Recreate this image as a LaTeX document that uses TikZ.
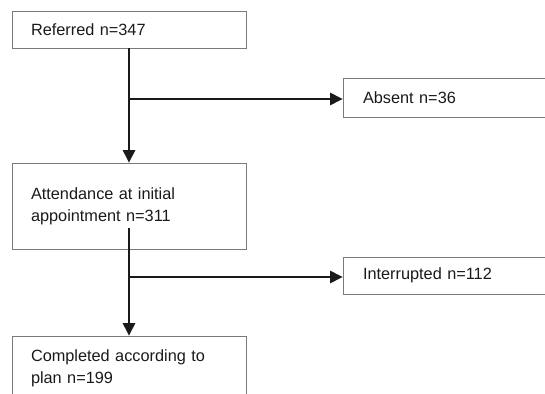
\documentclass[tikz,border=0pt]{standalone}
\usepackage{fontspec}
\setmainfont{Liberation Sans}
\usetikzlibrary{arrows.meta,calc}
\definecolor{boxgray}{HTML}{7A7A7A}
\definecolor{ink}{HTML}{1A1A1A}
\begin{document}
\begin{tikzpicture}[x=1pt,y=1pt,
  flowbox/.style={draw=boxgray, line width=0.9pt, rectangle, minimum width=234pt,
    text width=196pt, inner xsep=19pt, inner ysep=0pt, align=left, text=ink,
    font=\fontsize{16.3}{22}\selectfont},
  sidebox/.style={flowbox, minimum width=222pt, text width=182pt, inner xsep=20pt},
  conn/.style={draw=ink, line width=1.4pt, -{Triangle[length=12.5pt,width=12.5pt]}},
  plain/.style={draw=ink, line width=1.4pt}]
\useasboundingbox (0,0) rectangle (545,-393);
\clip (0,0) rectangle (545,-393);
\node[flowbox, minimum height=37pt] (ref) at (129,-29.5) {Referred n=347};
\node[sidebox, minimum height=39pt] (absent) at (454,-97.5) {Absent n=36};
\node[flowbox, minimum height=86pt] (att) at (129,-206) {Attendance at initial\\appointment n=311};
\node[sidebox, minimum height=37pt] (inter) at (454,-275.5) {Interrupted n=112};
\node[flowbox, minimum height=64pt] (comp) at (129,-368) {Completed according to\\plan n=199};
\coordinate (b1) at (129,-99);
\coordinate (s2) at (129,-228);
\coordinate (b2) at (129,-277);
\draw[conn] (ref.south) -- (att.north);
\draw[conn] (b1) -- (b1 -| absent.west);
\draw[conn] (s2) -- (comp.north);
\draw[conn] (b2) -- (b2 -| inter.west);
\end{tikzpicture}
\end{document}
